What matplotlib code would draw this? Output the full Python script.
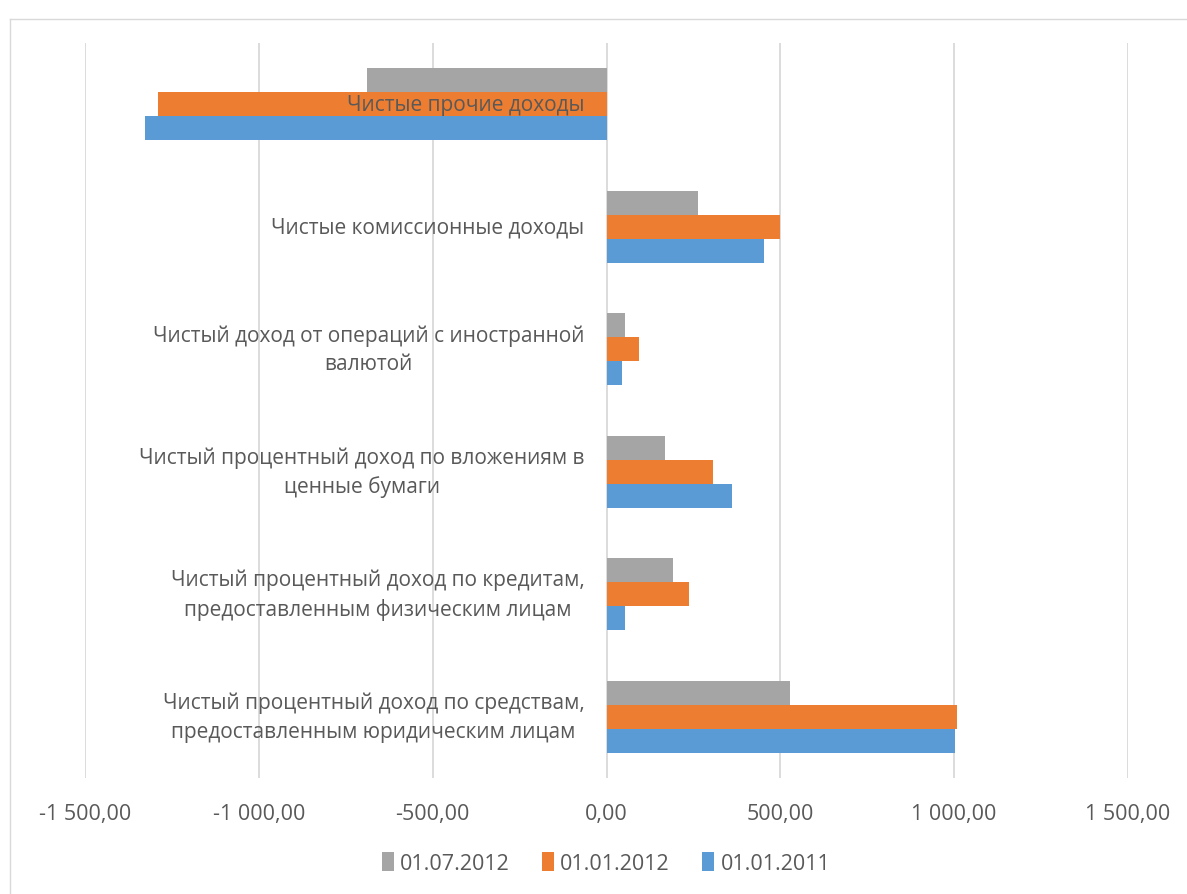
import numpy as np
import matplotlib
matplotlib.use('Agg')
import matplotlib.pyplot as plt
from matplotlib.transforms import offset_copy
from matplotlib.ticker import FuncFormatter

plt.rcParams['font.family'] = ['Open Sans', 'DejaVu Sans']

# categories, bottom to top (Excel order)
categories = [
    'Чистый процентный доход по средствам,\nпредоставленным юридическим лицам',
    'Чистый процентный доход по кредитам,\nпредоставленным физическим лицам',
    'Чистый процентный доход по вложениям в\nценные бумаги',
    'Чистый доход от операций с иностранной\nвалютой',
    'Чистые комиссионные доходы',
    'Чистые прочие доходы',
]
series_names = ['01.01.2011', '01.01.2012', '01.07.2012']
v_2011 = [1003, 52, 361, 46, 452, -1328]
v_2012 = [1007, 237, 305, 94, 499, -1290]
v_2012_07 = [529, 191, 167, 52, 262, -690]
colors = ['#5b9bd5', '#ed7d31', '#a5a5a5']

fig = plt.figure(figsize=(11.87, 8.95), dpi=100)
ax = fig.add_axes([85/1187, 1 - 779/895, (1128-85)/1187, (779-44)/895])

y = np.arange(len(categories))
h = 0.195
bars = []
for i, vals in enumerate([v_2011, v_2012, v_2012_07]):
    b = ax.barh(y + (i - 1) * h, vals, height=h, color=colors[i],
                label=series_names[i], zorder=2)
    bars.append(b)

ax.set_xlim(-1500, 1500)
ax.set_ylim(-0.5, len(categories) - 0.5)
ax.set_xticks(np.arange(-1500, 1501, 500))
ax.xaxis.set_major_formatter(FuncFormatter(
    lambda v, p: '{:,.2f}'.format(v).replace(',', ' ').replace('.', ',')))
ax.grid(axis='x', color='#d9d9d9', linewidth=1.3, zorder=0)
ax.set_yticks([])
for s in ax.spines.values():
    s.set_visible(False)
ax.tick_params(axis='x', length=0, pad=18, labelsize=15.5, labelcolor='#595959')

tr = offset_copy(ax.transData, fig=fig, x=-22, y=0, units='dots')
for yi, lab in zip(y, categories):
    ax.text(0, yi, lab, transform=tr, ha='right', va='center',
            multialignment='center', fontsize=15, color='#595959',
            linespacing=1.45, zorder=5)

handles = [bars[2], bars[1], bars[0]]
leg = fig.legend(handles, [series_names[2], series_names[1], series_names[0]],
                 loc='center', bbox_to_anchor=(606/1187, 1 - 864/895), ncol=3,
                 frameon=False, fontsize=15.5, handlelength=0.55, handleheight=1.0,
                 handletextpad=0.3, columnspacing=1.5)
for t in leg.get_texts():
    t.set_color('#595959')

# chart area border
fig.add_artist(plt.Line2D([10/1187, 10/1187], [0, 1 - 20/895],
                          transform=fig.transFigure, color='#d9d9d9', lw=1))
fig.add_artist(plt.Line2D([10/1187, 1], [1 - 20/895, 1 - 20/895],
                          transform=fig.transFigure, color='#d9d9d9', lw=1))

fig.savefig('out.png', dpi=100)
